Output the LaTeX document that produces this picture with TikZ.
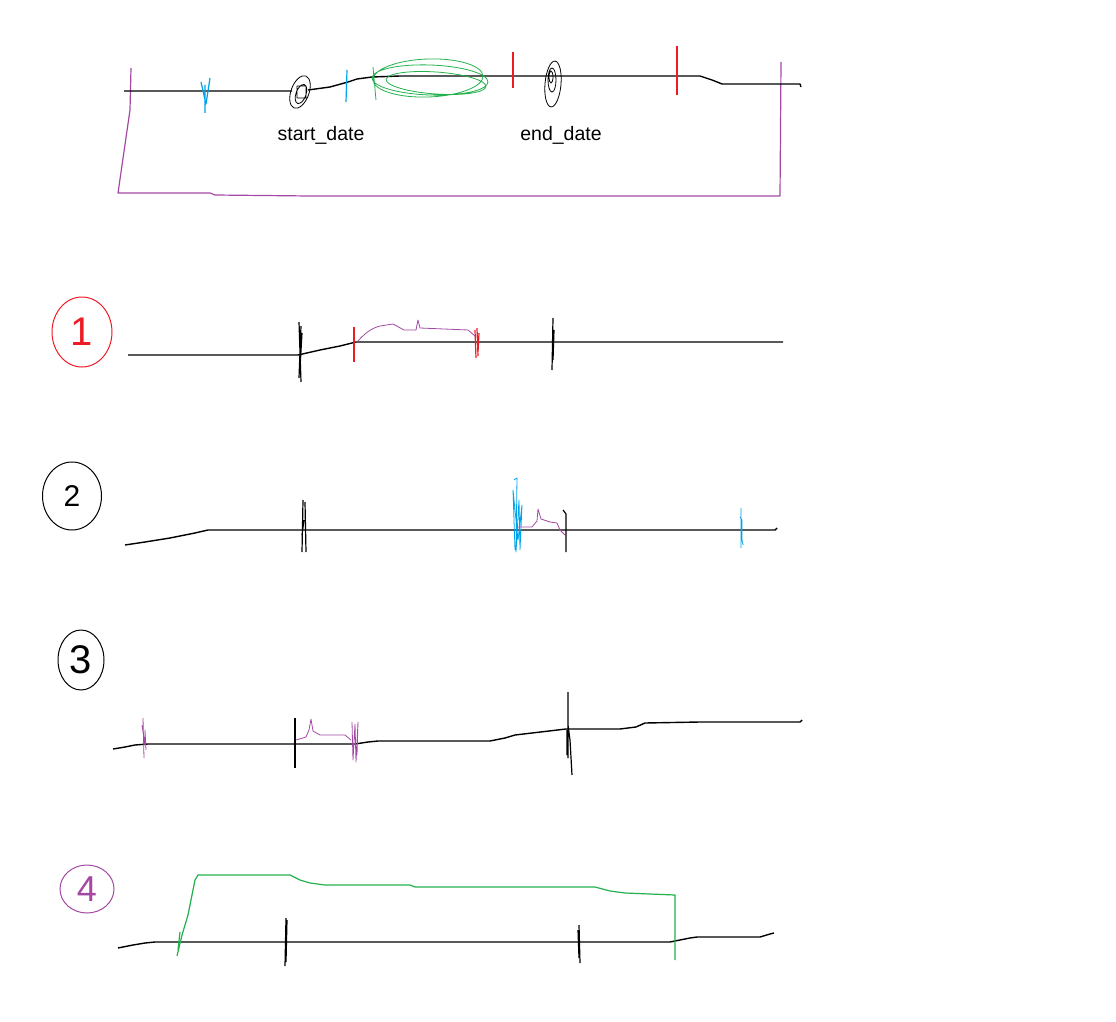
\documentclass[tikz,border=0pt]{standalone}
\usepackage{fontspec}
\setmainfont{Liberation Sans}
\usetikzlibrary{positioning,shapes.geometric}
\definecolor{penred}{RGB}{237,28,36}
\definecolor{penblue}{RGB}{0,162,232}
\definecolor{pengreen}{RGB}{34,177,76}
\definecolor{penpurple}{RGB}{163,73,164}
\tikzset{
  timeline/.style={line width=1.4pt, line join=round},
  penline/.style={line width=1.2pt, line join=round},
  thinpen/.style={line width=0.8pt, line join=round},
  ring/.style={draw, ellipse, line width=1pt, inner sep=0pt},
  datelbl/.style={font=\fontsize{19.5}{21}\selectfont, inner sep=1pt},
}

\begin{document}
\begin{tikzpicture}[x=1pt,y=-1pt]
\useasboundingbox (0,0) rectangle (1116,1022);

% top: the whole period
\draw[penpurple,penline] (131,68) -- (130,110) -- (118,193) -- (210,193) -- (215,195) -- (310,196) -- (530,196) -- (780,196) -- (781,62);
\draw[timeline] (124,91) -- (292,91) (308,90) -- (330,87) -- (348,82) -- (357,79) -- (372,77) -- (400,76) -- (700,76) -- (712,80) -- (722,84) -- (800,84) -- (801,87);
\coordinate (s0) at (300,92);
\coordinate (e0) at (553,84);
\draw[thinpen] (s0) ellipse [x radius=9, y radius=17, rotate=-20] (301,94) ellipse [x radius=5, y radius=10, rotate=-20] (297,86) rectangle (306,98);
\draw[thinpen] (e0) ellipse [x radius=8, y radius=23, rotate=-5] (552,80) ellipse [x radius=4, y radius=12] (551,77) ellipse [x radius=2, y radius=6];
\draw[penblue,penline] (205,113) -- (205,85) (201,82) -- (206,104) -- (210,78);
\draw[penblue,penline] (347,70) -- (346,102);
\draw[pengreen,thinpen] (430,80) ellipse [x radius=58, y radius=15, rotate=-2] (428,78) ellipse [x radius=55, y radius=19, rotate=2] (436,83) ellipse [x radius=50, y radius=11, rotate=-4] (373,67) -- (376,100);
\draw[penred,line width=2.5pt] (513,52) -- (513,88);
\draw[penred,line width=1.4pt] (677,46) -- (677,95);
\node[datelbl] (startlbl) [below=33pt of s0, xshift=21pt] {start\_date};
\node[datelbl] (endlbl) [below=41pt of e0, xshift=8pt] {end\_date};

% case 1
\node[ring, penred, minimum width=60pt, minimum height=70pt, font=\fontsize{40}{40}\selectfont] (one) at (82,332) {1};
\draw[timeline] (128,355) -- (298,355) -- (320,350) -- (340,346) -- (356,342) -- (783,342);
\draw[penline] (299,322) -- (301,382) (301,326) -- (299,378) (302,333) -- (300,368);
\draw[penred,penline] (354,327) -- (354,362);
\draw[penpurple,thinpen] (358,341) .. controls (365,333) and (372,328) .. (380,326) -- (393,324) -- (404,330) -- (416,330) -- (418,320) -- (420,328) -- (468,330) -- (475,336);
\draw[penred,penline] (475,330) -- (476,358) (477,328) -- (478,356) (479,333) -- (478,352);
\draw[penline] (553,318) -- (552,370) (554,330) -- (553,360);

% case 2
\node[ring, minimum width=59pt, minimum height=68pt, font=\fontsize{30}{30}\selectfont] (two) at (72,496) {2};
\draw[timeline] (125,545) -- (145,542) -- (170,538) -- (195,533) -- (208,530) -- (775,530) -- (777,528);
\draw[penline] (303,500) -- (302,552) (305,502) -- (306,552) (304,520) -- (302,535);
\draw[penblue,thinpen] (514,480) -- (517,478) -- (516,552) -- (519,500) -- (520,550) -- (522,505) -- (518,540) -- (513,490) -- (515,550);
\draw[penpurple,thinpen] (517,527) -- (532,527) -- (537,521) -- (538,509) -- (541,519) -- (550,522) -- (557,523) -- (560,530) -- (565,535);
\draw[penline] (563,510) -- (566,514) -- (566,552);
\draw[penblue,thinpen] (741,508) -- (741,548) (740,517) -- (742,520) -- (742,540) -- (743,545);

% case 3
\node[ring, minimum width=46pt, minimum height=60pt, font=\fontsize{40}{40}\selectfont] (three) at (81,660) {3};
\draw[timeline] (113,749) -- (125,747) -- (135,745) -- (148,744) -- (355,744) -- (368,742) -- (378,741) -- (490,741) -- (505,738) -- (515,735) -- (532,733) -- (566,729) -- (620,729) -- (636,727) -- (645,723) -- (700,722) -- (800,722) -- (802,720);
\draw[penpurple,thinpen] (143,718) -- (144,758) (142,725) -- (145,745) -- (145,730) -- (146,750);
\draw[penline] (295,718) -- (295,768);
\draw[penpurple,thinpen] (296,740) -- (306,737) -- (309,730) -- (311,719) -- (313,731) -- (320,735) -- (345,735) -- (351,740);
\draw[penpurple,thinpen] (352,722) -- (353,760) -- (355,724) -- (356,762) -- (358,722) -- (357,755);
\draw[penline] (568,692) -- (568,758) (567,730) -- (567,755) (568,725) -- (570,740) -- (572,775);

% case 4
\node[ring, penpurple, minimum width=54pt, minimum height=48pt, font=\fontsize{36}{36}\selectfont] (four) at (87,889) {4};
\draw[timeline] (118,948) -- (133,945) -- (145,943) -- (155,942) -- (670,942) -- (680,940) -- (690,938) -- (697,937) -- (760,937) -- (770,934) -- (774,933);
\draw[pengreen,penline] (177,956) -- (182,935) -- (188,915) -- (195,880) -- (198,875) -- (290,875) -- (300,880) -- (310,883) -- (325,885) -- (410,885) -- (415,887) -- (595,887) -- (610,891) -- (625,893) -- (675,895) -- (675,960);
\draw[pengreen,penline] (178,950) -- (180,932);
\draw[penline] (286,918) -- (285,966) (287,920) -- (286,962);
\draw[penline] (579,925) -- (580,963) (578,930) -- (579,958);
\end{tikzpicture}
\end{document}
